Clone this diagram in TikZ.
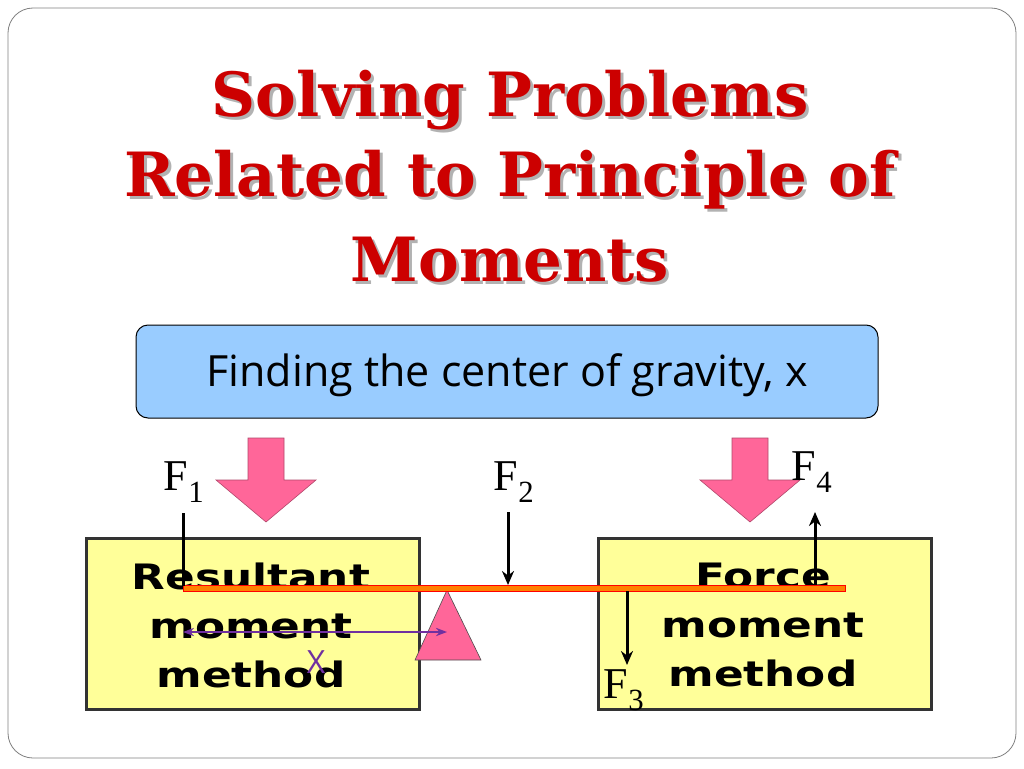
\documentclass[tikz,border=0pt]{standalone}
\usepackage{fontspec}
\setmainfont{Liberation Serif}
\newfontfamily\titlefont{DejaVu Serif}
\newfontfamily\boxfont{Open Sans}
\newfontfamily\widefont[FakeStretch=1.25]{DejaVu Sans}
\usetikzlibrary{arrows.meta}
\definecolor{tred}{HTML}{CC0000}
\definecolor{lblue}{HTML}{99CCFF}
\definecolor{lyel}{HTML}{FFFF99}
\definecolor{pink}{HTML}{FF6699}
\definecolor{purp}{HTML}{7030A0}
\begin{document}
\begin{tikzpicture}[x=1pt,y=-1pt,
  ttl/.style={font=\titlefont\bfseries\fontsize{61}{61}\selectfont,text=tred},
  ybox/.style={draw=black!80,line width=2.5pt,fill=lyel,minimum width=333pt,minimum height=171pt,anchor=north west,inner sep=0},
  ytxt/.style={font=\widefont\bfseries\fontsize{35}{35}\selectfont,align=center},
  fl/.style={font=\fontsize{44}{44}\selectfont},
  arr/.style={-{Stealth[length=14pt,width=12pt]},line width=3pt}]
\useasboundingbox (0,0) rectangle (1024,768);
\fill[white] (0,0) rectangle (1024,768);
\draw[gray,line width=0.8pt,rounded corners=25pt] (8,8) rectangle (1016,758);
\foreach \t/\y [count=\i] in {Solving Problems/100,Related to Principle of/180,Moments/260}{
  \node[ttl,text=gray!60] at (513,\y+3) {\t};
  \node[ttl] (t\i) at (510,\y) {\t};}
\node[draw,line width=1pt,fill=lblue,rounded corners=12pt,minimum width=742pt,minimum height=93pt] (blue) at (507,371.5) {};
\node[font=\boxfont\fontsize{43}{43}\selectfont] (btxt) at (507,375) {Finding the center of gravity, x};
\foreach \c/\n in {266/pa,750/pb}{
  \fill[pink,draw=pink!70!black,line width=0.6pt] (\c-18,438) -- (\c+18,438) -- (\c+18,480) -- (\c+50,480) -- (\c,522) -- (\c-50,480) -- (\c-18,480) -- cycle;
  \coordinate (\n) at (\c,522);}
\node[ybox] (yl) at (85,537) {};
\node[ybox] (yr) at (597,537) {};
\node[ytxt] (lt) at (251,625) {Resultant\\[14pt]moment\\[14pt]method};
\node[ytxt] (rt) at (763,625) {Force\\[14pt]moment\\[14pt]method};
\fill[pink,draw=black!70,line width=0.6pt] (447,590) -- (481,660) -- (415,660) -- cycle;
\draw[red,fill=orange,line width=1pt] (183,585) rectangle (845,591);
\coordinate (b1) at (183,586); \coordinate (b2) at (508,585); \coordinate (b4) at (815,585); \coordinate (b3) at (627,591);
\node[fl] (f1) at (184,482) {F\textsubscript{1}};
\node[fl] (f2) at (514,482) {F\textsubscript{2}};
\node[fl] (f4) at (812,472) {F\textsubscript{4}};
\node[fl] (f3) at (624,690) {F\textsubscript{3}};
\coordinate (a1) at (183,513); \coordinate (a2) at (508,512); \coordinate (a4) at (815,512); \coordinate (a3) at (627,665);
\draw[line width=3pt] (a1) -- (b1);
\draw[arr] (a2) -- (b2);
\draw[arr] (b4) -- (a4);
\draw[arr] (b3) -- (a3);
\coordinate (x1) at (183,632); \coordinate (x2) at (447,632);
\draw[purp,line width=2pt,{Stealth[length=11pt]}-{Stealth[length=11pt]}] (x1) -- (x2);
\node[text=purp,font=\boxfont\fontsize{32}{32}\selectfont] (xl) at (316,662) {X};
\end{tikzpicture}
\end{document}
